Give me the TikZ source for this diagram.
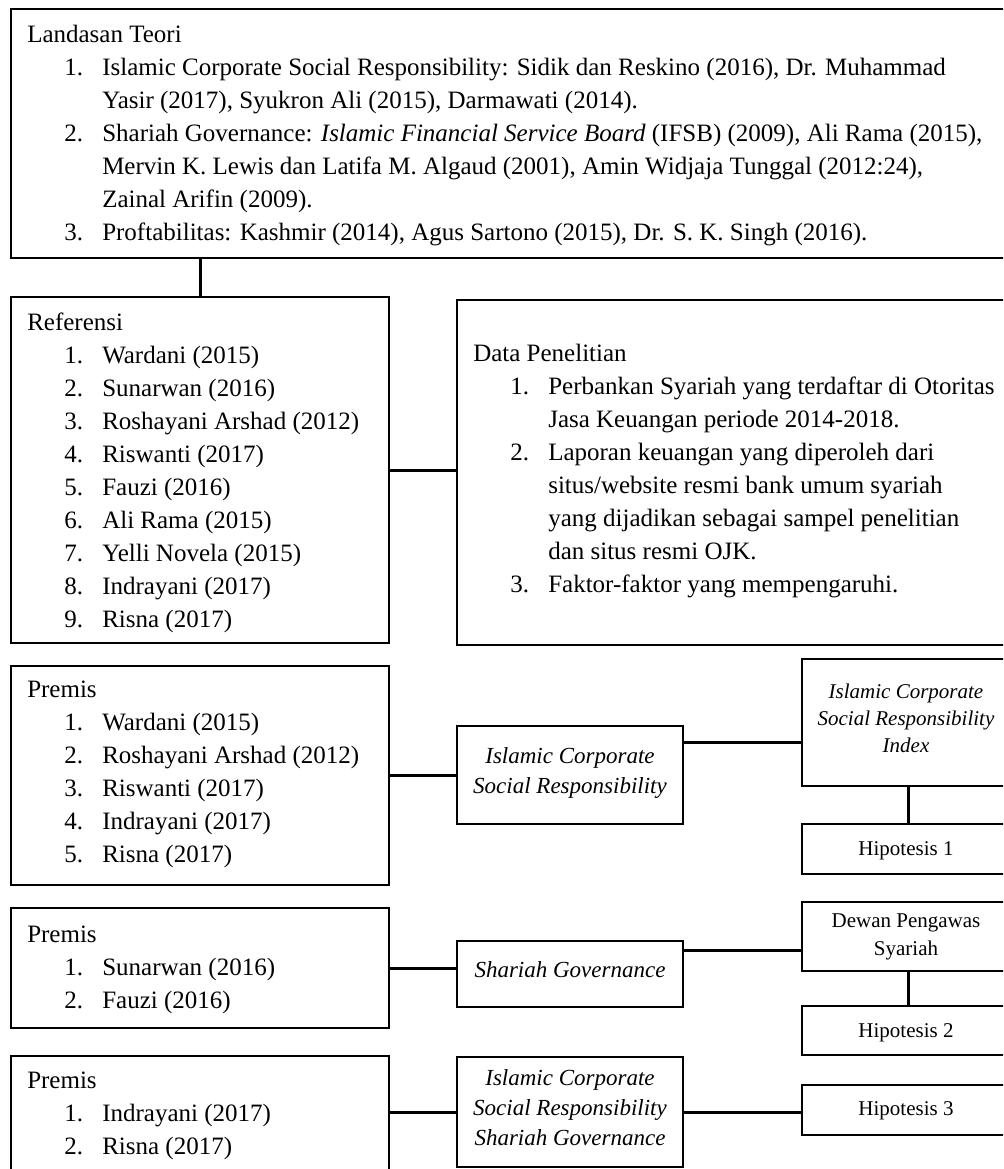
\documentclass[tikz,border=0pt]{standalone}
\usepackage{fontspec}
\setmainfont{Liberation Serif}
\usetikzlibrary{fit,calc}
\newcommand{\nitem}[2]{\hspace*{27.75pt}\makebox[28.5pt][l]{#1}#2\strut}
\newcommand{\ncont}[1]{\hspace*{56.25pt}#1\strut}
\tikzset{
  box/.style={draw=black, line width=1.1pt, inner sep=0pt},
  conn/.style={draw=black, line width=2.25pt},
  bigtext/.style={anchor=north west, inner sep=0pt, align=left,
    font=\fontsize{18.75pt}{24.75pt}\selectfont},
  smalltext/.style={anchor=center, inner sep=0pt, align=center,
    font=\fontsize{15.75pt}{#1}\selectfont},
  smalltext/.default={20.25pt},
  midtext/.style={anchor=center, inner sep=0pt, align=center,
    font=\fontsize{17.25pt}{22.5pt}\selectfont\itshape}
}
\begin{document}
\begin{tikzpicture}[x=0.75pt,y=-0.75pt]
\clip (0,0) rectangle (1003,1169);
\fill[white] (0,0) rectangle (1003,1169);

% boxes
\node[box, fit={(11,9) (1014,258)}] (T) {};
\node[box, fit={(11,297) (389,643)}] (R) {};
\node[box, fit={(457,300) (1014,645)}] (D) {};
\node[box, fit={(11,666) (389,885)}] (P1) {};
\node[box, fit={(457,726) (683,824)}] (C1) {};
\node[box, fit={(802,659) (1014,786)}] (C1I) {};
\node[box, fit={(802,824) (1014,874)}] (H1) {};
\node[box, fit={(11,908) (389,1028)}] (P2) {};
\node[box, fit={(457,941) (683,1007)}] (C2) {};
\node[box, fit={(802,902) (1014,971)}] (DPS) {};
\node[box, fit={(802,1006) (1014,1055)}] (H2) {};
\node[box, fit={(11,1056) (389,1190)}] (P3) {};
\node[box, fit={(457,1057) (683,1167)}] (C3) {};
\node[box, fit={(802,1085) (1014,1135)}] (H3) {};

% connectors
\draw[conn] (T.south -| R.north) -- (R.north);
\draw[conn] (R.east) -- (R.east -| D.west);
\draw[conn] (P1.east) -- (P1.east -| C1.west);
\draw[conn] ([yshift=-12.75pt]C1.north east) -- ([yshift=-12.75pt]C1.north east -| C1I.west);
\draw[conn] (C1I.south) -- (H1.north);
\draw[conn] (P2.east) -- (P2.east -| C2.west);
\draw[conn] ([yshift=-7.5pt]C2.north east) -- ([yshift=-7.5pt]C2.north east -| DPS.west);
\draw[conn] (DPS.south) -- (H2.north);
\draw[conn] (C3.west) -- (C3.west -| P3.east);
\draw[conn] (C3.east) -- (C3.east -| H3.west);

% texts of the large boxes
\node[bigtext] (Tt) at (27,18.9) {Landasan Teori\strut\\
\nitem{1.}{Islamic Corporate Social Responsibility: Sidik dan Reskino (2016), Dr. Muhammad}\\
\ncont{Yasir (2017), Syukron Ali (2015), Darmawati (2014).}\\
\nitem{2.}{Shariah Governance: \textit{Islamic Financial Service Board} (IFSB) (2009), Ali Rama (2015),}\\
\ncont{Mervin K. Lewis dan Latifa M. Algaud (2001), Amin Widjaja Tunggal (2012:24),}\\
\ncont{Zainal Arifin (2009).}\\
\nitem{3.}{Proftabilitas: Kashmir (2014), Agus Sartono (2015), Dr. S. K. Singh (2016).}};

\node[bigtext] (Rt) at (27,306.9) {Referensi\strut\\
\nitem{1.}{Wardani (2015)}\\
\nitem{2.}{Sunarwan (2016)}\\
\nitem{3.}{Roshayani Arshad (2012)}\\
\nitem{4.}{Riswanti (2017)}\\
\nitem{5.}{Fauzi (2016)}\\
\nitem{6.}{Ali Rama (2015)}\\
\nitem{7.}{Yelli Novela (2015)}\\
\nitem{8.}{Indrayani (2017)}\\
\nitem{9.}{Risna (2017)}};

\node[bigtext] (Dt) at (473,337.9) {Data Penelitian\strut\\
\nitem{1.}{Perbankan Syariah yang terdaftar di Otoritas}\\
\ncont{Jasa Keuangan periode 2014-2018.}\\
\nitem{2.}{Laporan keuangan yang diperoleh dari}\\
\ncont{situs/website resmi bank umum syariah}\\
\ncont{yang dijadikan sebagai sampel penelitian}\\
\ncont{dan situs resmi OJK.}\\
\nitem{3.}{Faktor-faktor yang mempengaruhi.}};

\node[bigtext] (P1t) at (27,674.4) {Premis\strut\\
\nitem{1.}{Wardani (2015)}\\
\nitem{2.}{Roshayani Arshad (2012)}\\
\nitem{3.}{Riswanti (2017)}\\
\nitem{4.}{Indrayani (2017)}\\
\nitem{5.}{Risna (2017)}};

\node[bigtext] (P2t) at (27,918.9) {Premis\strut\\
\nitem{1.}{Sunarwan (2016)}\\
\nitem{2.}{Fauzi (2016)}};

\node[bigtext] (P3t) at (27,1064.9) {Premis\strut\\
\nitem{1.}{Indrayani (2017)}\\
\nitem{2.}{Risna (2017)}};

% texts of the middle boxes
\node[midtext] (C1t) at (570,772) {Islamic Corporate\strut\\Social Responsibility\strut};
\node[midtext] (C2t) at (570,971) {Shariah Governance\strut};
\node[midtext] (C3t) at (570,1109) {Islamic Corporate\strut\\Social Responsibility\strut\\Shariah Governance\strut};

% texts of the right boxes
\node[smalltext=20.25pt] (C1It) at (906,719.6) {\itshape Islamic Corporate\strut\\\itshape Social Responsibility\strut\\\itshape Index\strut};
\node[smalltext=20.25pt] (H1t) at (906,849.6) {Hipotesis 1\strut};
\node[smalltext=21pt] (DPSt) at (906,935.4) {Dewan Pengawas\strut\\Syariah\strut};
\node[smalltext=20.25pt] (H2t) at (906,1031.6) {Hipotesis 2\strut};
\node[smalltext=20.25pt] (H3t) at (906,1109.6) {Hipotesis 3\strut};
\end{tikzpicture}
\end{document}
